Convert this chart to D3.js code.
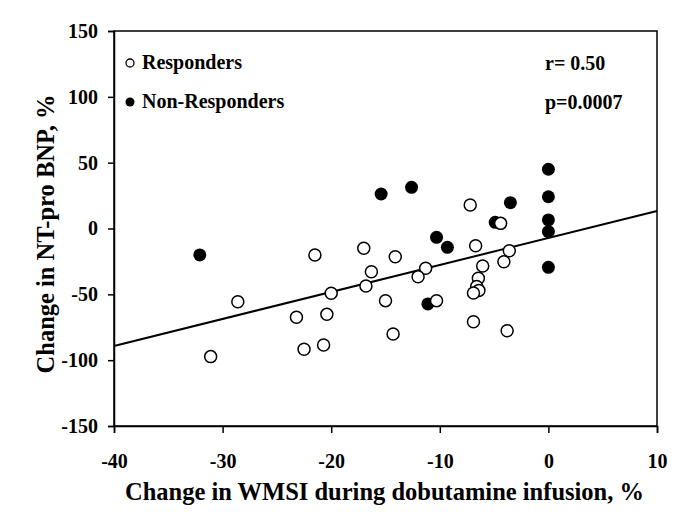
<!DOCTYPE html>
<html><head><meta charset="utf-8">
<script src="https://cdn.jsdelivr.net/npm/d3@7"></script>
<style>body{margin:0;background:#fff}svg{display:block}text{font-family:"Liberation Serif","Times New Roman",serif;font-weight:bold;fill:#000}</style>
</head><body>
<svg id="c" width="685" height="518"></svg>
<script>
const xTicks = [-40, -30, -20, -10, 0, 10];
const yTicks = [-150, -100, -50, 0, 50, 100, 150];
const respX = [-21.5, -28.6, -20.0, -23.2, -20.4, -31.1, -22.5, -20.7, -17.0, -14.1, -16.3, -16.8, -15.0, -14.3, -11.3, -12.0, -10.3, -7.2, -4.4, -6.7, -3.6, -4.1, -6.05, -6.45, -6.6, -6.4, -6.9, -6.9, -3.8];
const respY = [-20.1, -55.6, -49.2, -67.4, -65.2, -97.3, -91.7, -88.5, -15.0, -21.4, -32.8, -43.7, -54.8, -80.1, -30.2, -36.6, -54.8, 17.8, 3.9, -13.1, -16.9, -25.2, -28.5, -37.8, -44.0, -47.0, -49.0, -70.8, -77.6];
const nonX = [-32.1, -15.4, -12.6, -10.3, -9.3, -11.1, -3.5, -4.9, 0, 0, 0, 0, 0];
const nonY = [-20.1, 26.2, 31.3, -6.7, -14.3, -57.3, 19.6, 4.7, 45, 24.1, 6.5, -2.4, -29.5];
const fitIntercept = -7.2, fitSlope = 2.05;
const legendLabels = ["Responders", "Non-Responders"];
const statLabels = ["r= 0.50", "p=0.0007"];
const xTitle = "Change in WMSI during dobutamine infusion, %";
const yTitle = "Change in NT-pro BNP, %";

const svg = d3.select("#c");
const L = 114, R = 657, T = 31, B = 426;
const x = d3.scaleLinear().domain([-40, 10]).range([L, R]);
const y = d3.scaleLinear().domain([-150, 150]).range([B, T]);

// frame
svg.append("rect").attr("x", L).attr("y", T).attr("width", R - L).attr("height", B - T)
  .attr("fill", "none").attr("stroke", "#000").attr("stroke-width", 1.5);

const fmt = d => String(d);
const xa = svg.append("g").attr("transform", `translate(0,${B})`)
  .call(d3.axisBottom(x).tickValues(xTicks).tickSize(7).tickPadding(21).tickFormat(fmt));
const ya = svg.append("g").attr("transform", `translate(${L},0)`)
  .call(d3.axisLeft(y).tickValues(yTicks).tickSize(6).tickPadding(10).tickFormat(fmt));
[xa, ya].forEach(a => {
  a.select(".domain").attr("stroke-width", 1.5);
  a.selectAll(".tick line").attr("stroke-width", 1.5);
  a.selectAll("text").style("font-size", "20px").style("font-family", '"Liberation Serif",serif').style("font-weight", "bold");
});

// regression line
svg.append("line")
  .attr("x1", x(-40)).attr("y1", y(fitIntercept + fitSlope * -40))
  .attr("x2", x(10)).attr("y2", y(fitIntercept + fitSlope * 10))
  .attr("stroke", "#000").attr("stroke-width", 2);

// non-responders (filled)
svg.append("g").selectAll("circle").data(nonX.map((v, i) => [v, nonY[i]])).join("circle")
  .attr("cx", d => x(d[0])).attr("cy", d => y(d[1])).attr("r", 6.5).attr("fill", "#000");
// responders (open)
svg.append("g").selectAll("circle").data(respX.map((v, i) => [v, respY[i]])).join("circle")
  .attr("cx", d => x(d[0])).attr("cy", d => y(d[1])).attr("r", 6).attr("fill", "#fff")
  .attr("stroke", "#000").attr("stroke-width", 1.5);

// legend
const lg = svg.append("g");
lg.append("circle").attr("cx", 130).attr("cy", 63).attr("r", 4).attr("fill", "#fff").attr("stroke", "#000").attr("stroke-width", 1.3);
lg.append("circle").attr("cx", 130).attr("cy", 102).attr("r", 4.5).attr("fill", "#000");
lg.selectAll("text").data(legendLabels).join("text")
  .attr("x", 142).attr("y", (d, i) => 69 + i * 39).style("font-size", "20px").text(d => d);

svg.selectAll(".stat").data(statLabels).join("text").attr("class", "stat")
  .attr("x", 545).attr("y", (d, i) => 70 + i * 39).style("font-size", "20px").text(d => d);

// axis titles
svg.append("text").attr("x", 384.5).attr("y", 500).attr("text-anchor", "middle")
  .style("font-size", "24.5px").text(xTitle);
svg.append("text").attr("transform", `translate(54,234) rotate(-90)`).attr("text-anchor", "middle")
  .style("font-size", "24.5px").text(yTitle);
</script>
</body></html>
